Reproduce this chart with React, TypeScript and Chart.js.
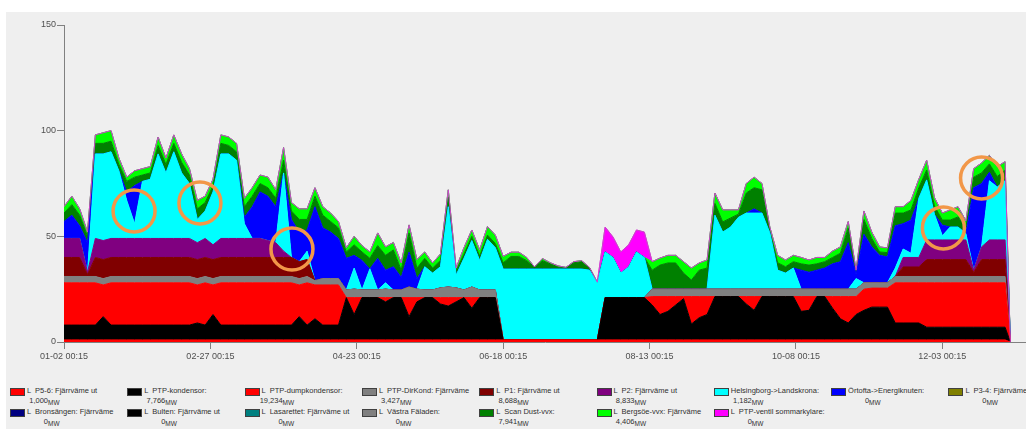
import React, { useEffect, useRef } from "react";
import { Chart, registerables } from "chart.js";

Chart.register(...registerables);

const FONT = "'Liberation Sans', Arial, sans-serif";

// x positions: days after 01-02 00:15
const days = [0,3,6,9,12,15,18,21,24,27, 30,33,36,39,42,45,48,51,54,57,
  60,63,66,69,72,75,78,81,84,87, 90,93,96,99,102,105,108,111,114,117,
  120,123,126,129,132,135,138,141,144,147, 150,153,156,159,162,165,168,171,174,177,
  180,183,186,189,192,195,198,201,204,207, 210,213,216,219,222,225,228,231,234,237,
  240,243,246,249,252,255,258,261,264,267, 270,273,276,279,282,285,288,291,294,297,
  300,303,306,309,312,315,318,321,324,327, 330,333,336,339,342,345,348,351,354,357,
  360,362];

const tickDays = [0, 56, 112, 168, 224, 280, 336];
const tickLabels = ["01-02 00:15", "02-27 00:15", "04-23 00:15", "06-18 00:15", "08-13 00:15", "10-08 00:15", "12-03 00:15"];

const p56 = [1,1,1,1,1,1,1,1,1,1, 1,1,1,1,1,1,1,1,1,1, 1,1,1,1,1,1,1,1,1,1,
  1,1,1,1,1,1,1,1,1,1, 1,1,1,1,1,1,1,1,1,1, 1,1,1,1,1,1,1,1,1,1,
  1,1,1,1,1,1,1,1,1,1, 1,1,1,1,1,1,1,1,1,1, 1,1,1,1,1,1,1,1,1,1,
  1,1,1,1,1,1,1,1,1,1, 1,1,1,1,1,1,1,1,1,1, 1,1,1,1,1,1,1,1,1,1,
  1,0];

const ptpKond = [7,7,7,7,7,11,7,7,7,7,
  7,7,7,7,7,7,7,8,7,12,
  7,7,7,7,7,7,7,7,7,7,
  11,7,10,7,7,7,20,12,20,20,
  20,18,20,20,11,18,20,20,17,16,
  18,20,15,20,20,20,0,0,0,0,
  0,0,0,0,0,0,0,0,0,20,
  20,20,20,20,20,16.5,12,13.5,16.5,19.5,
  7.5,10.5,12,20.5,20.5,20.5,20.5,17,14,20.5,
  20.5,20.5,20.5,20.5,13.5,14,20.5,20.5,15,10,
  8,12,14,15.5,15.5,15.5,8,8,8,8,
  6,6,6,6,6,6,6,6,6,6,
  6,0];

const ptpDump = [20,20,20,20,20,15,20,20,20,20,
  20,20,20,20,20,20,20,18,20,14,
  20,20,20,20,20,20,20,20,20,20,
  15,20,16,19,19,19,0,8,0,0,
  0,2,0,0,9,2,0,0,3,4,
  2,0,5,0,0,0,0,0,0,0,
  0,0,0,0,0,0,0,0,0,0,
  0,0,0,0,0,4,8.5,7,4,1,
  13,10,8.5,0,0,0,0,3.5,6.5,0,
  0,0,0,0,7,6.5,0,0,5.5,10.5,
  12.5,8.5,10,9,9,9,19,19,19,19,
  21,21,21,21,21,21,21,21,21,21,
  21,0];

const ptpDir = [3,3,3,3,3,3,3,3,3,3,
  3,3,3,3,3,3,3,3,3,3,
  3,3,3,3,3,3,3,3,3,3,
  3,3,2,3,3,3,3.6,4,3.6,3.6,
  3.6,4,3.6,3.6,5,4,3.6,3.6,4.6,5,
  4.6,3.6,5,3.6,3.6,3.6,0,0,0,0,
  0,0,0,0,0,0,0,0,0,0,
  0,0,0,0,0,3.5,3.5,3.5,3.5,3.5,
  3.5,3.5,3.5,3.5,3.5,3.5,3.5,3.5,3.5,3.5,
  3.5,3.5,3.5,3.5,3.5,3.5,3.5,3.5,3.5,3.5,
  3.5,3.5,3,2.5,2.5,2.5,3,3,3,3,
  3,3,3,3,3,3,3,3,3,3,
  3,0];

const p1 = [9,9,9,1,9,9,9,9,9,9,
  9,9,9,9,9,9,9,9,9,9,
  9,9,9,9,9,9,9,9,9,9,
  8,8,0,0,0,0,0,0,0,0,
  0,0,0,0,0,0,0,0,0,0,
  0,0,0,0,0,0,0,0,0,0,
  0,0,0,0,0,0,0,0,0,0,
  0,0,0,0,0,0,0,0,0,0,
  0,0,0,0,0,0,0,0,0,0,
  0,0,0,0,0,0,0,0,0,0,
  0,0,0,0,0,0,0,4.5,4.5,4.5,
  8,8,8,8,8,8,2,8,8,8,
  8,0];

const p2 = [9,9,9,1,9,9,9,9,9,9,
  9,9,9,9,9,9,9,8,9,7,
  9,9,9,9,9,9,8,7,3,0,
  0,0,0,0,0,0,0,0,0,0,
  0,0,0,0,0,0,0,0,0,0,
  0,0,0,0,0,0,0,0,0,0,
  0,0,0,0,0,0,0,0,0,0,
  0,0,0,0,0,0,0,0,0,0,
  0,0,0,0,0,0,0,0,0,0,
  0,0,0,0,0,0,0,0,0,0,
  0,0,0,0,0,0,0,4.5,4.5,4.5,
  9.3,9.3,9.3,9.3,9.3,9.3,1,6,9.3,9.3,
  9.3,0];

const helsingborg = [0,0,0,0,40,41,41,32,18,7,
  27,28,40,31,41,31,26,11,13,25,
  40,40,37,7,0,0,0,0,37,0,
  0,4,0,0,0,0,0,10,0,10,
  0,3,0,0,0,0,11,8,10,38,
  6,15,22,14,24,20,33.5,33.5,33.5,33.5,
  33.5,33.5,33.5,33.5,33.5,33.5,33.5,33,27,21.6,
  19,11.6,14.5,21.6,19,0,0,0,0,0,
  0,0,0,35,27,29.4,34,36,36,36,
  26.6,9,7.6,10,0,0,0,0,0,0,
  0,5,0,0,0,0,4,4,2,28,
  28.4,12,2,6.1,6.1,3,0,0,28,25,
  28,0];

const ortofta = [8,11,6,14,0,0,0,0,4,18,
  0,0,0,0,0,0,0,0,0,0,
  0,0,0,3,15,22,21,17,0,18,
  14,10,35,24,22,19,15,6,14,0,
  15,6,11,6,16.6,5,0,0,0,0,
  0,0,0,0,0,0,0,0,0,0,
  0,0,0,0,0,0,0,0,0,0,
  0,0,0,0,0,0,0,0,0,0,
  0,0,0,0,0,0,0,0,2,0,
  0,0,0,0,9,8,9,10,12,13,
  22,2,23,17,13,12.3,20,12,15.7,0,
  0,0,5,0,0,0,39,30,4,0,
  0,0];

const scanDust = [4,5,5,3,5,5,5,3,5,4,
  3,3,4,4,4,5,4,5,4,3,
  5,4,4,5,5,4,4,4,6,4,
  6,5,5,6,5,5,3,5,4,5,
  6,7,8,3.4,9,5,4,2.4,3,4.6,
  2,2,2,2,2,2,3,6,6,4,
  1,4,2.5,1,0.5,3,3.5,1,0,0,
  0,0,0,0,0,9,11.4,12.4,12.4,7.6,
  4.3,9,10,5.6,4.8,4.3,1.5,9.5,10,11,
  1,3.5,3,3,3,3.4,3,3,3,4,
  7,1,7,4,1.6,2,6,5,4.8,5,
  4.7,4,2.4,3.3,4.8,3,5,5,4,5,
  5,0];

const bergsoe = [3,4,3,2,4,5,5,3,2,3,
  3,3,4,3,4,4,3,4,3,3,
  4,4,4,4,4,4,5,4,6,4,
  5,5,4,4,4,3,2,4,3,3,
  6,4,3.5,3.4,3.8,4,3,2.4,3,3.4,
  1.4,3,3,3,4,4,3,2,2,1.5,
  0,1,0.5,0.5,0.3,0.5,0.5,0.3,0.3,0,
  0,0,0,0,0,4,3.3,3.6,3.6,5.4,
  5.7,3.4,3.8,4.9,5.7,3.8,2,4.5,5,3,
  1.8,3.5,3.2,3,3,2.4,3,2,3,3,
  3,1,4,3,2.4,2.2,3,3,4.5,4,
  4.6,4,3.3,4.8,4.8,3,4,4.7,4,4.7,
  4,0];

const ventil = [0,0,0,0,0,0,0,0,0,0,
  0,0,0,0,0,0,0,0,0,0,
  0,0,0,0,0,0,0,0,0,0,
  0,0,0,0,0,0,0,0,0,0,
  0,0,0,0,0,0,0,0,0,0,
  0,0,0,0,0,0,0,0,0,0,
  0,0,0,0,0,0,0,0,0,11.8,
  9.7,10,10.5,10.4,12,0,0,0,0,0,
  0,0,0,0,0,0,0,0,0,0,
  0,0,0,0,0,0,0,0,0,0,
  0,0,0,0,0,0,0,0,0,0,
  0,0,0,0,0,0,0,0,0,0,
  0,0];

const seriesNames = [
  "L  P5-6: Fjärrväme ut", "L  PTP-kondensor:", "L  PTP-dumpkondensor:", "L  PTP-DirKond: Fjärrväme",
  "L  P1: Fjärrväme ut", "L  P2: Fjärrväme ut", "Helsingborg->Landskrona:", "Örtofta->Energiknuten:",
  "L  P3-4: Fjärrväme", "L  Bronsängen: Fjärrväme", "L  Bulten: Fjärrväme ut", "L  Lasarettet: Fjärrväme ut",
  "L  Västra Fäladen:", "L  Scan Dust-vvx:", "L  Bergsöe-vvx: Fjärrväme", "L  PTP-ventil sommarkylare:",
];
const legendValues = ["1,000", "7,766", "19,234", "3,427", "8,688", "8,833", "1,182", "0", "0", "0", "0", "0", "0", "7,941", "4,406", "0"];
const seriesColors = ["#ff0000", "#000000", "#ff0000", "#808080", "#800000", "#800080", "#00ffff", "#0000ff",
  "#808000", "#000080", "#000000", "#008080", "#808080", "#008000", "#00ff00", "#ff00ff"];
// series with zero output are shown only in the legend
const seriesData: (number[] | null)[] = [p56, ptpKond, ptpDump, ptpDir, p1, p2, helsingborg, ortofta,
  null, null, null, null, null, scanDust, bergsoe, ventil];

// orange highlight circles: [day, MW]
const highlights = [[26.8, 62], [52, 65.8], [87.2, 44], [336.4, 54], [351, 77.6]];

const overlayPlugin = {
  id: "overlay",
  afterDatasetsDraw(chart: any) {
    const ctx = chart.ctx;
    const area = chart.chartArea;
    const meta = chart.getDatasetMeta(chart.data.datasets.length - 1);
    ctx.save();
    ctx.beginPath();
    ctx.rect(area.left, area.top - 2, area.right - area.left, area.bottom - area.top + 2);
    ctx.clip();
    if (meta && meta.dataset) meta.dataset.draw(ctx, area);
    ctx.restore();
    const xs = chart.scales.x;
    const ys = chart.scales.y;
    ctx.save();
    ctx.strokeStyle = "#f29748";
    ctx.lineWidth = 3.5;
    for (const [d, v] of highlights) {
      ctx.beginPath();
      ctx.arc(xs.getPixelForValue(d), ys.getPixelForValue(v), 21, 0, Math.PI * 2);
      ctx.stroke();
    }
    ctx.restore();
  },
};

export default function App() {
  const ref = useRef<HTMLCanvasElement>(null);
  useEffect(() => {
    const canvas = ref.current;
    if (!canvas) return;
    const datasets: any[] = [];
    seriesData.forEach((arr, i) => {
      if (!arr) return;
      const isTop = i === seriesData.length - 1;
      datasets.push({
        label: seriesNames[i],
        data: days.map((d, j) => ({ x: d, y: arr[j] })),
        backgroundColor: seriesColors[i],
        borderColor: isTop ? "#d040d0" : seriesColors[i],
        borderWidth: 1,
        fill: datasets.length === 0 ? "origin" : "-1",
        pointRadius: 0,
        pointHoverRadius: 0,
        tension: 0,
      });
    });
    const chart = new Chart(canvas, {
      type: "line",
      data: { datasets },
      plugins: [overlayPlugin],
      options: {
        responsive: false,
        animation: false,
        events: [],
        layout: { padding: { top: 25, left: 0, right: 0, bottom: 0 } },
        plugins: { legend: { display: false }, tooltip: { enabled: false } },
        scales: {
          x: {
            type: "linear",
            min: 0,
            max: 368,
            afterBuildTicks: (s: any) => { s.ticks = tickDays.map((v) => ({ value: v })); },
            afterFit: (s: any) => { s.height = 30; },
            ticks: {
              autoSkip: false,
              maxRotation: 0,
              color: "#505050",
              padding: 2,
              font: { family: FONT, size: 9 },
              callback: (_v: any, i: number) => tickLabels[i],
            },
            grid: { drawOnChartArea: false, tickLength: 7, color: "#808080" },
            border: { color: "#808080" },
          },
          y: {
            stacked: true,
            min: 0,
            max: 150,
            afterFit: (s: any) => { s.width = 64; },
            ticks: { stepSize: 50, color: "#505050", padding: 1, font: { family: FONT, size: 9 } },
            grid: { drawOnChartArea: false, tickLength: 7, color: "#808080" },
            border: { color: "#808080" },
          },
        },
      } as any,
    });
    return () => chart.destroy();
  }, []);

  const colX = (c: number) => 10 + c * 117.3;
  const legendItems = seriesNames.map((name, i) => {
    const row = i < 9 ? 0 : 1;
    const col = i < 9 ? i : i - 9;
    const top = row === 0 ? 386 : 407;
    return (
      <div key={i} style={{ position: "absolute", left: colX(col), top, width: 117, height: 21 }}>
        <div style={{ position: "absolute", left: 0, top: 2, width: 13, height: 6, background: seriesColors[i], border: "1px solid #404040" }} />
        <div style={{ position: "absolute", left: 17, top: 0, whiteSpace: "pre", fontSize: 7.5, lineHeight: "10px", color: "#303030" }}>{name}</div>
        <div style={{ position: "absolute", left: 0, top: 10, whiteSpace: "pre", fontSize: 7.5, lineHeight: "10px", color: "#303030" }}>
          <span style={{ display: "inline-block", width: 38, textAlign: "right" }}>{legendValues[i]}</span>
          <span style={{ fontSize: 6.5, position: "relative", top: 2 }}>MW</span>
        </div>
      </div>
    );
  });

  return (
    <div style={{ position: "fixed", left: 0, top: 0, width: 1026, height: 429, background: "#ffffff", overflow: "hidden", fontFamily: FONT }}>
      <div style={{ position: "absolute", left: 6, top: 12, right: 0, bottom: 0, background: "#efefef" }} />
      <canvas ref={ref} width={1026} height={372} style={{ position: "absolute", left: 0, top: 0, width: 1026, height: 372 }} />
      {legendItems}
    </div>
  );
}
